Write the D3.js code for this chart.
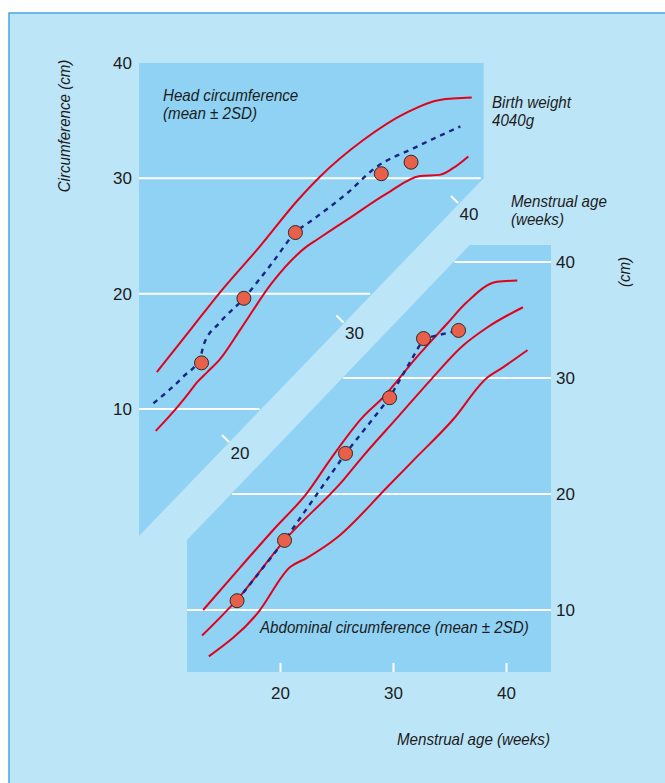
<!DOCTYPE html>
<html>
<head>
<meta charset="utf-8">
<script src="https://cdn.jsdelivr.net/npm/d3@7"></script>
<style>
body { margin: 0; background: #fff; }
text { font-family: "Liberation Sans", Arial, sans-serif; fill: #1c1c1c; }
.lab { font-style: italic; font-size: 17px; }
</style>
</head>
<body>
<svg id="chart" width="665" height="783"></svg>
<script>
// head circumference, [menstrual age (weeks), cm]
const headUpper = [[13.7,13.2],[16.5,16.7],[19.2,20.1],[22.7,24.1],[26.0,28.1],[27.9,30.1],[31.7,33.3],[35.5,35.7],[38.4,36.8],[41.2,37.0]]
const headLower = [[13.6,8.1],[15.6,10.3],[16.5,11.4],[17.2,12.3],[18.1,13.2],[19.2,14.3],[21.0,16.9],[23.8,21.0],[26.8,24.1],[27.7,24.7],[30.3,26.4],[33.8,28.7],[36.7,30.2],[38.4,30.3],[39.6,30.9],[40.9,31.9]]
const headFetus = [[13.4,10.5],[16.0,12.8],[17.5,14.5],[17.8,15.6],[19.2,17.5],[21.2,19.5],[23.8,22.7],[25.8,25.3],[27.3,26.4],[30.3,28.7],[32.9,31.0],[36.1,32.6],[40.2,34.5]]
const headScans = [[17.6,14.0],[21.3,19.6],[25.8,25.3],[33.3,30.4],[35.9,31.4]]

// abdominal circumference
const absUpper = [[13.2,10.0],[16.5,13.7],[19.4,16.9],[22.4,20.1],[24.4,22.9],[27.3,26.6],[29.1,28.3],[32.1,31.8],[34.8,34.7],[36.5,36.5],[39.2,38.3],[41.0,38.4]]
const absMean = [[13.1,7.8],[16.2,10.9],[20.4,16.0],[25.6,21.2],[27.3,23.2],[30.4,26.6],[33.3,29.8],[36.2,32.8],[38.4,34.4],[41.5,36.1]]
const absLower = [[13.7,6.0],[18.0,9.7],[20.9,13.7],[22.4,14.5],[25.0,16.2],[29.5,20.6],[31.8,22.9],[35.3,26.4],[38.3,30.0],[39.7,30.9],[41.9,32.4]]
const absScans = [[16.2,10.8],[20.4,16.0],[25.8,23.5],[29.7,28.3],[32.7,33.4],[35.8,34.1]]

const cmTicks = [10, 20, 30, 40]
const weekTicks = [20, 30, 40]

const svg = d3.select("#chart")

const headX = d3.scaleLinear().domain([20, 40]).range([229, 458])
const headY = d3.scaleLinear().domain([10, 40]).range([409, 63])
const edgeY = d3.scaleLinear().domain([20, 40]).range([442, 203]) // diagonal week axis
const lowX = d3.scaleLinear().domain([20, 40]).range([280, 506])
const lowY = d3.scaleLinear().domain([10, 40]).range([610, 262])

const bg = "#bde5f8", panel = "#8fd2f4", red = "#e3001b", navy = "#1b2580"
const headLeft = 139, band = 52
const low = {left: 187, right: 551, top: 245, bottom: 672}

// x of the head panel's diagonal edge at height y
function edgeAt(y) { return headX(edgeY.invert(y)) }

svg.append("rect")
    .attr("x", 9).attr("y", 13).attr("width", 700).attr("height", 800)
    .attr("fill", bg).attr("stroke", "#4aa7de").attr("stroke-width", 1.5)

// head panel
let hr = edgeAt(headY(30)) + 2
let headPoly = [[headLeft, headY(40)], [hr, headY(40)], [hr, headY(30)],
    [headLeft, edgeY(headX.invert(headLeft))]]
svg.append("polygon").attr("points", headPoly.join(" ")).attr("fill", panel)

// abdominal panel
let lowPoly = [[low.left, edgeY(headX.invert(low.left - band))],
    [edgeAt(low.top) + band, low.top], [low.right, low.top],
    [low.right, low.bottom], [low.left, low.bottom]]
svg.append("polygon").attr("points", lowPoly.join(" ")).attr("fill", panel)

// gridlines
svg.selectAll(".hgrid").data([10, 20, 30]).enter().append("line")
    .attr("x1", headLeft).attr("x2", d => edgeAt(headY(d)) - 1)
    .attr("y1", d => headY(d)).attr("y2", d => headY(d))
    .attr("stroke", "#fff").attr("stroke-width", 2)

svg.selectAll(".lgrid").data(cmTicks).enter().append("line")
    .attr("x1", d => Math.max(low.left, edgeAt(lowY(d)) + band + 1)).attr("x2", low.right)
    .attr("y1", d => lowY(d)).attr("y2", d => lowY(d))
    .attr("stroke", "#fff").attr("stroke-width", 2)

// axes
function styleAxis(g) {
    g.select(".domain").remove()
    g.selectAll("text").attr("font-size", 17).attr("font-family", null).attr("fill", "#1c1c1c")
}
svg.append("g").attr("transform", `translate(${headLeft},0)`)
    .call(d3.axisLeft(headY).tickValues(cmTicks).tickSize(0).tickPadding(7).tickFormat(d3.format("d")))
    .call(styleAxis)

svg.append("g").attr("transform", `translate(${low.right},0)`)
    .call(d3.axisRight(lowY).tickValues(cmTicks).tickSize(0).tickPadding(5).tickFormat(d3.format("d")))
    .call(styleAxis)

svg.append("g").attr("transform", `translate(0,${low.bottom})`)
    .call(d3.axisBottom(lowX).tickValues(weekTicks).tickSize(-9).tickPadding(15).tickFormat(d3.format("d")))
    .call(styleAxis)
    .call(g => g.selectAll("line").attr("stroke", "#fff").attr("stroke-width", 2))

// diagonal menstrual age axis on the head panel
let dt = svg.selectAll(".dtick").data(weekTicks).enter().append("g")
    .attr("transform", d => `translate(${headX(d)},${edgeY(d)})`)
dt.append("line").attr("x1", 0).attr("y1", 0).attr("x2", -7).attr("y2", -7)
    .attr("stroke", "#fff").attr("stroke-width", 2)
dt.append("text").attr("x", 11).attr("y", 11).attr("dy", "0.35em")
    .attr("text-anchor", "middle").attr("font-size", 17).text(d => d)

// curves
function drawCurve(data, xs, ys, color, dashed) {
    let line = d3.line().x(d => xs(d[0])).y(d => ys(d[1])).curve(dashed == "lin" ? d3.curveLinear : d3.curveMonotoneX)
    svg.append("path").datum(data).attr("d", line)
        .attr("fill", "none").attr("stroke", color)
        .attr("stroke-width", dashed ? 2.4 : 2)
        .attr("stroke-dasharray", dashed ? "5,5" : null)
}
drawCurve(headUpper, headX, headY, red)
drawCurve(headLower, headX, headY, red)
drawCurve(headFetus, headX, headY, navy, true)
drawCurve(absUpper, lowX, lowY, red)
drawCurve(absMean, lowX, lowY, red)
drawCurve(absLower, lowX, lowY, red)
drawCurve(absScans, lowX, lowY, navy, "lin")

function drawScans(data, xs, ys) {
    svg.append("g").selectAll("circle").data(data).enter().append("circle")
        .attr("cx", d => xs(d[0])).attr("cy", d => ys(d[1])).attr("r", 7)
        .attr("fill", "#e9604a").attr("stroke", "#2a2a2a").attr("stroke-width", 1)
}
drawScans(headScans, headX, headY)
drawScans(absScans, lowX, lowY)

// labels (narrow italic, squeezed horizontally)
function label(x, y, lines, rot) {
    let g = svg.append("g")
        .attr("transform", rot ? `translate(${x},${y}) rotate(-90) scale(0.89,1)` : `translate(${x},${y}) scale(0.89,1)`)
    let t = g.append("text").attr("class", "lab")
    if (rot) t.attr("text-anchor", "middle")
    lines.forEach((s, i) => t.append("tspan").attr("x", 0).attr("y", i * 18).text(s))
}
label(163, 101, ["Head circumference", "(mean ± 2SD)"])
label(492, 108, ["Birth weight", "4040g"])
label(511, 207, ["Menstrual age", "(weeks)"])
label(260, 633, ["Abdominal circumference (mean ± 2SD)"])
label(397, 745, ["Menstrual age (weeks)"])
label(70, 126, ["Circumference (cm)"], true)
label(630, 272, ["(cm)"], true)
</script>
</body>
</html>
